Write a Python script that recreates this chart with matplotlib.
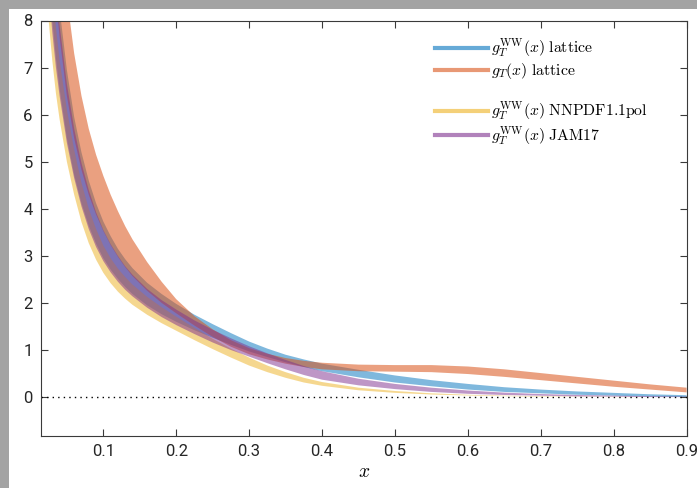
import matplotlib
matplotlib.use("Agg")
import matplotlib.pyplot as plt
from matplotlib.lines import Line2D
from matplotlib.patches import Rectangle

plt.rcParams['mathtext.fontset'] = 'cm'

x = [0.02, 0.025, 0.03, 0.035, 0.04, 0.05, 0.06, 0.07, 0.08, 0.09, 0.10, 0.11, 0.12, 0.13, 0.14,
     0.16, 0.18, 0.20, 0.225, 0.25, 0.275, 0.30, 0.325, 0.35, 0.375, 0.40, 0.45, 0.50, 0.55,
     0.60, 0.65, 0.70, 0.75, 0.80, 0.85, 0.90]

ww_lat_lo = [10.3, 9.0, 8.0, 7.2, 6.55, 5.5, 4.72, 4.12, 3.64, 3.26, 2.95, 2.71, 2.51, 2.34, 2.19,
             1.95, 1.76, 1.6, 1.42, 1.26, 1.11, 0.97, 0.85, 0.74, 0.64, 0.55, 0.42, 0.31, 0.23,
             0.16, 0.11, 0.08, 0.05, 0.03, 0.01, 0.0]
ww_lat_hi = [13.0, 11.4, 10.1, 9.05, 8.25, 6.95, 5.95, 5.2, 4.6, 4.12, 3.73, 3.42, 3.15, 2.93, 2.74,
             2.43, 2.19, 1.98, 1.75, 1.55, 1.36, 1.18, 1.03, 0.9, 0.8, 0.71, 0.58, 0.46, 0.36,
             0.28, 0.21, 0.16, 0.12, 0.09, 0.06, 0.04]

gt_lat_lo = [12.0, 10.6, 9.4, 8.45, 7.65, 6.4, 5.5, 4.83, 4.3, 3.88, 3.53, 3.23, 2.98, 2.76, 2.57,
             2.26, 2.0, 1.78, 1.52, 1.28, 1.07, 0.91, 0.8, 0.71, 0.64, 0.59, 0.55, 0.54, 0.53,
             0.49, 0.43, 0.36, 0.29, 0.22, 0.16, 0.1]
gt_lat_hi = [18.0, 15.5, 13.5, 11.9, 10.6, 8.5, 7.3, 6.4, 5.7, 5.15, 4.7, 4.3, 3.95, 3.63, 3.35,
             2.87, 2.45, 2.08, 1.72, 1.44, 1.21, 1.04, 0.92, 0.83, 0.77, 0.73, 0.69, 0.68, 0.68,
             0.65, 0.59, 0.51, 0.43, 0.35, 0.27, 0.2]

nnpdf_lo = [9.2, 8.0, 7.15, 6.45, 5.9, 5.0, 4.3, 3.72, 3.27, 2.92, 2.64, 2.42, 2.24, 2.09, 1.96,
            1.75, 1.57, 1.41, 1.21, 1.02, 0.84, 0.67, 0.53, 0.41, 0.31, 0.24, 0.145, 0.09, 0.055,
            0.035, 0.02, 0.01, 0.005, 0.0, 0.0, 0.0]
nnpdf_hi = [11.0, 9.7, 8.7, 7.85, 7.15, 6.1, 5.25, 4.55, 4.0, 3.57, 3.22, 2.95, 2.73, 2.55, 2.39,
            2.13, 1.91, 1.71, 1.47, 1.24, 1.03, 0.84, 0.67, 0.53, 0.41, 0.32, 0.2, 0.13, 0.08,
            0.05, 0.03, 0.02, 0.01, 0.005, 0.0, 0.0]

jam_lo = [10.0, 8.7, 7.75, 7.0, 6.4, 5.4, 4.65, 4.05, 3.57, 3.19, 2.89, 2.65, 2.45, 2.28, 2.14,
          1.9, 1.7, 1.53, 1.34, 1.16, 1.0, 0.86, 0.72, 0.59, 0.47, 0.37, 0.25, 0.17, 0.11,
          0.07, 0.045, 0.03, 0.015, 0.01, 0.0, 0.0]
jam_hi = [12.3, 10.8, 9.6, 8.65, 7.9, 6.65, 5.7, 4.97, 4.4, 3.93, 3.55, 3.25, 3.0, 2.78, 2.6,
          2.3, 2.06, 1.86, 1.63, 1.43, 1.25, 1.08, 0.93, 0.79, 0.66, 0.55, 0.39, 0.28, 0.2,
          0.14, 0.095, 0.065, 0.045, 0.03, 0.02, 0.01]

labels = [r'$g_T^{\mathrm{WW}}(x)\ \mathrm{lattice}$',
          r'$g_T(x)\ \mathrm{lattice}$',
          r'$g_T^{\mathrm{WW}}(x)\ \mathrm{NNPDF1.1pol}$',
          r'$g_T^{\mathrm{WW}}(x)\ \mathrm{JAM17}$']
colors = ['#0072BD', '#D95319', '#EDB120', '#7E2F8E']

xticks = [0.1, 0.2, 0.3, 0.4, 0.5, 0.6, 0.7, 0.8, 0.9]
yticks = [0, 1, 2, 3, 4, 5, 6, 7, 8]

W, H = 697, 488
fig = plt.figure(figsize=(W / 100, H / 100), dpi=100)
fig.patch.set_facecolor('#a3a3a3')
bg = Rectangle((9 / W, 0), 1, 1 - 9 / H, transform=fig.transFigure,
               facecolor='white', edgecolor='none', zorder=-10)
fig.add_artist(bg)

ax = fig.add_axes([41 / W, (H - 435.7) / H, (686.6 - 41) / W, (435.7 - 20.5) / H])
ax.set_zorder(1)
ax.set_facecolor('white')

bands = [(ww_lat_lo, ww_lat_hi), (gt_lat_lo, gt_lat_hi), (nnpdf_lo, nnpdf_hi), (jam_lo, jam_hi)]
alphas = [0.5, 0.55, 0.5, 0.5]
for (lo, hi), c, a in zip(bands, colors, alphas):
    ax.fill_between(x, lo, hi, color=c, alpha=a, linewidth=0)

ax.axhline(0, color='black', linestyle=(0, (1, 3)), linewidth=1.0)

ax.set_xlim(0.0145, 0.9)
ax.set_ylim(-0.82, 8)
ax.set_xticks(xticks)
ax.set_xticklabels([f'{t:.1f}' for t in xticks])
ax.set_yticks(yticks)
ax.set_yticklabels([str(t) for t in yticks])
ax.tick_params(direction='in', top=True, right=True, length=5, width=0.8,
               colors='#3a3a3a', labelsize=12, pad=6)
for lab in ax.get_xticklabels() + ax.get_yticklabels():
    lab.set_fontfamily('Roboto')
    lab.set_color('#262626')
for s in ax.spines.values():
    s.set_color('#3a3a3a')
    s.set_linewidth(0.8)

ax.set_xlabel(r'$x$', fontsize=14, labelpad=2)

handles = [Line2D([], [], color=colors[0], lw=3, alpha=0.6),
           Line2D([], [], color=colors[1], lw=3, alpha=0.6),
           Line2D([], [], color='none', lw=0),
           Line2D([], [], color=colors[2], lw=3, alpha=0.6),
           Line2D([], [], color=colors[3], lw=3, alpha=0.6)]
leg_labels = [labels[0], labels[1], ' ', labels[2], labels[3]]
ax.legend(handles, leg_labels, loc='upper left', bbox_to_anchor=(0.6, 0.975),
          frameon=False, fontsize=11.3, handlelength=3.4, handletextpad=0.2,
          labelspacing=0.12, borderaxespad=0)

fig.savefig('out.png', dpi=100, facecolor=fig.get_facecolor())
